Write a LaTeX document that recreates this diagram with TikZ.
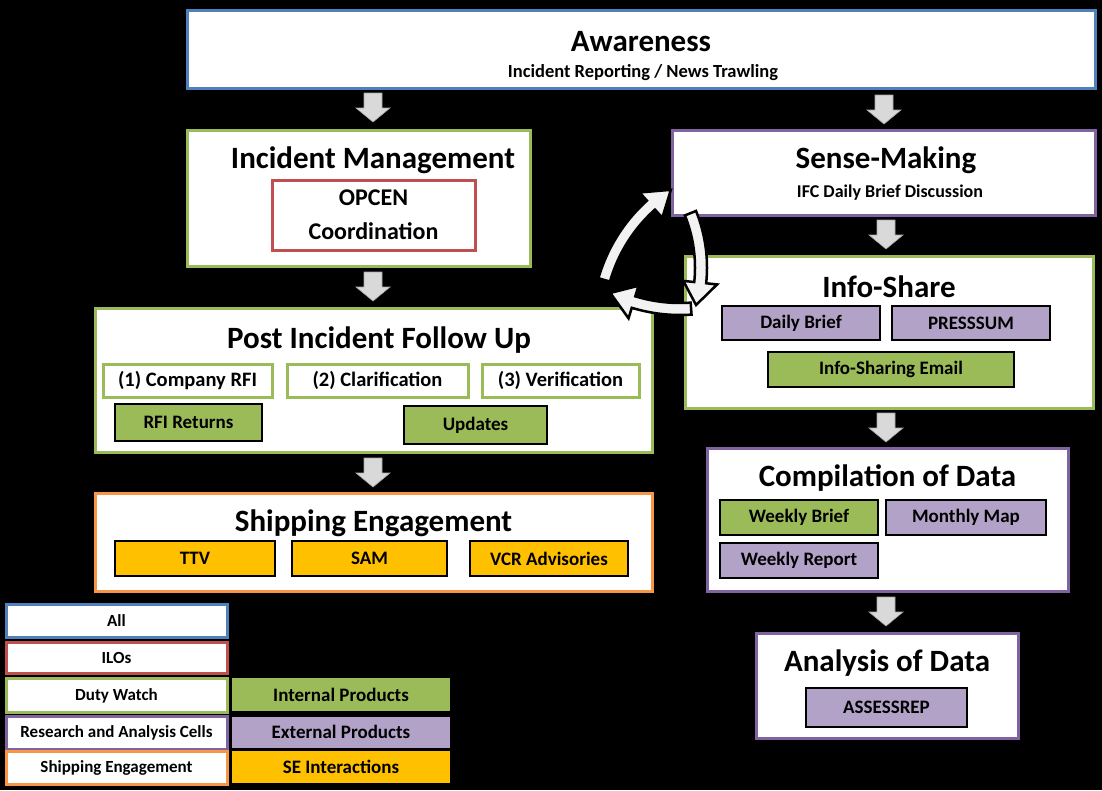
\documentclass[tikz,border=0pt]{standalone}
\usepackage{fontspec}
\setmainfont{Carlito}
\definecolor{cblue}{HTML}{4F81BD}
\definecolor{cred}{HTML}{C0504D}
\definecolor{cgreen}{HTML}{9BBB59}
\definecolor{cpurple}{HTML}{8064A2}
\definecolor{corange}{HTML}{F79646}
\definecolor{fpurple}{HTML}{B3A2C7}
\definecolor{fgold}{HTML}{FFC000}
\definecolor{arrgray}{HTML}{D9D9D9}
\definecolor{cycwhite}{HTML}{F2F2F2}
\newcommand{\cycarrow}[6]{% cx, cy, r, tail angle, head-base angle, tip angle
  \filldraw[cyc] plot[domain=#4:#5,samples=30] ({#1+(#3+6)*cos(\x)},{#2+(#3+6)*sin(\x)})
   -- ({#1+(#3+17)*cos(#5)},{#2+(#3+17)*sin(#5)})
   -- ({#1+#3*cos(#6)},{#2+#3*sin(#6)})
   -- ({#1+(#3-17)*cos(#5)},{#2+(#3-17)*sin(#5)})
   -- plot[domain=#5:#4,samples=30] ({#1+(#3-6)*cos(\x)},{#2+(#3-6)*sin(\x)}) -- cycle;}
\newcommand{\blkarrow}[2]{%
  \filldraw[blk] ({#1-9},{#2}) -- ({#1+9},{#2}) -- ({#1+9},{#2+15}) -- ({#1+17},{#2+15}) -- ({#1},{#2+29}) -- ({#1-17},{#2+15}) -- ({#1-9},{#2+15}) -- cycle;}
\begin{document}
\begin{tikzpicture}[x=1pt,y=-1pt,
  mainbox/.style={draw, line width=3pt, fill=white, inner sep=0pt},
  subbox/.style={draw=cgreen, line width=3pt, fill=white, inner sep=0pt, font=\bfseries\fontsize{20.5}{24}\selectfont},
  prod/.style={draw=black, line width=2.5pt, inner sep=0pt, font=\bfseries\fontsize{19}{22}\selectfont},
  ttl/.style={font=\bfseries\fontsize{31}{36}\selectfont, inner sep=0pt},
  subttl/.style={font=\bfseries\fontsize{18.5}{22}\selectfont, inner sep=0pt},
  legl/.style={draw, line width=3pt, fill=white, inner sep=0pt, minimum width=221pt, font=\bfseries\fontsize{17}{20}\selectfont},
  legr/.style={inner sep=0pt, minimum width=218pt, font=\bfseries\fontsize{19}{22}\selectfont},
  blk/.style={fill=arrgray, draw=gray!70, line width=0.6pt},
  cyc/.style={fill=cycwhite, draw=black, line width=2.5pt, line join=miter}]
\fill[black] (0,0) rectangle (1102,790);
\useasboundingbox (0,0) rectangle (1102,790);
% ---- Awareness
\node[mainbox, draw=cblue, minimum width=908pt, minimum height=78pt] (aw) at (641,49) {};
\node[ttl] (awt) at (641,42) {Awareness};
\node[subttl] (aws) at (643,73) {Incident Reporting / News Trawling};
% ---- Incident Management
\node[mainbox, draw=cgreen, minimum width=343pt, minimum height=136pt] (im) at (358.5,198) {};
\node[ttl] (imt) at (373,160) {Incident Management};
\node[draw=cred, line width=3pt, fill=white, minimum width=203pt, minimum height=70pt, inner sep=0pt] (opc) at (373.5,215) {};
\node[font=\bfseries\fontsize{24}{28}\selectfont, inner sep=0pt] (opc1) at (373.5,198) {OPCEN};
\node[font=\bfseries\fontsize{24}{28}\selectfont, inner sep=0pt] (opc2) at (373.5,231) {Coordination};
% ---- Post Incident Follow Up
\node[mainbox, draw=cgreen, minimum width=557pt, minimum height=144pt] (pif) at (373.5,380) {};
\node[ttl] (pift) at (379,340) {Post Incident Follow Up};
\node[subbox, minimum width=169pt, minimum height=33pt] (s1) at (187.5,380.5) {(1) Company RFI};
\node[subbox, minimum width=181pt, minimum height=33pt] (s2) at (377.5,380.5) {(2) Clarification};
\node[subbox, minimum width=157pt, minimum height=33pt] (s3) at (560.5,380.5) {(3) Verification};
\node[prod, fill=cgreen, minimum width=147pt, minimum height=37pt] (rfi) at (188.5,422.5) {RFI Returns};
\node[prod, fill=cgreen, minimum width=143pt, minimum height=38pt] (upd) at (475.5,425) {Updates};
% ---- Shipping Engagement
\node[mainbox, draw=corange, minimum width=557pt, minimum height=98pt] (se) at (373.5,542) {};
\node[ttl] (set) at (373.5,523) {Shipping Engagement};
\node[prod, fill=fgold, minimum width=160pt, minimum height=35pt] (ttv) at (195,558.5) {TTV};
\node[prod, fill=fgold, minimum width=155pt, minimum height=35pt] (sam) at (369.5,558.5) {SAM};
\node[prod, fill=fgold, minimum width=158pt, minimum height=35pt] (vcr) at (549,558.5) {VCR Advisories};
% ---- Sense-Making
\node[mainbox, draw=cpurple, minimum width=423pt, minimum height=85pt] (sm) at (883.5,172.5) {};
\node[ttl] (smt) at (886,160) {Sense-Making};
\node[subttl, font=\bfseries\fontsize{18}{22}\selectfont] (sms) at (890,193) {IFC Daily Brief Discussion};
% ---- Info-Share
\node[mainbox, draw=cgreen, minimum width=408pt, minimum height=152pt] (is) at (889,332) {};
\node[ttl] (ist) at (889,287) {Info-Share};
\node[prod, fill=fpurple, minimum width=158pt, minimum height=34pt] (db) at (801,323) {Daily Brief};
\node[prod, fill=fpurple, minimum width=158pt, minimum height=34pt] (ps) at (971,323) {PRESSSUM};
\node[prod, fill=cgreen, minimum width=246pt, minimum height=35pt] (ise) at (891,369.5) {Info-Sharing Email};
% ---- Compilation of Data
\node[mainbox, draw=cpurple, minimum width=361pt, minimum height=143pt] (cd) at (887.5,519.5) {};
\node[ttl] (cdt) at (887.5,478) {Compilation of Data};
\node[prod, fill=cgreen, minimum width=158pt, minimum height=35pt] (wb) at (799,517.5) {Weekly Brief};
\node[prod, fill=fpurple, minimum width=160pt, minimum height=35pt] (mm) at (966,517.5) {Monthly Map};
\node[prod, fill=fpurple, minimum width=158pt, minimum height=35pt] (wr) at (799,560.5) {Weekly Report};
% ---- Analysis of Data
\node[mainbox, draw=cpurple, minimum width=262pt, minimum height=105pt] (ad) at (887,685.5) {};
\node[ttl] (adt) at (887,663) {Analysis of Data};
\node[prod, fill=fpurple, minimum width=161pt, minimum height=39pt] (asr) at (886.5,707.5) {ASSESSREP};
% ---- Block arrows between stages
\blkarrow{373}{93}
\blkarrow{884}{95}
\blkarrow{373}{272}
\blkarrow{886}{220}
\blkarrow{373}{458}
\blkarrow{886}{413}
\blkarrow{886}{597}
% ---- Cycle arrows
\cycarrow{758}{324}{160}{196}{228}{237}
\cycarrow{556}{267.5}{145}{-22}{6}{15}
\cycarrow{680}{150}{159}{86}{107}{116}
% ---- Legend
\node[legl, draw=cblue, minimum height=33pt] (lall) at (116.5,621) {All};
\node[legl, draw=cred, minimum height=31pt] (lilo) at (116.5,657.5) {ILOs};
\node[legl, draw=cgreen, minimum height=34pt] (ldw) at (116.5,695.5) {Duty Watch};
\node[legl, draw=cpurple, minimum height=33pt] (lra) at (116.5,732.5) {Research and Analysis Cells};
\node[legl, draw=corange, minimum height=33pt] (lse) at (116.5,767.5) {Shipping Engagement};
\node[legr, fill=cgreen, minimum height=33pt] (lip) at (341,694.5) {Internal Products};
\node[legr, fill=fpurple, minimum height=31pt] (lep) at (341,732) {External Products};
\node[legr, fill=fgold, minimum height=32pt] (lsi) at (341,766.5) {SE Interactions};
\end{tikzpicture}
\end{document}
